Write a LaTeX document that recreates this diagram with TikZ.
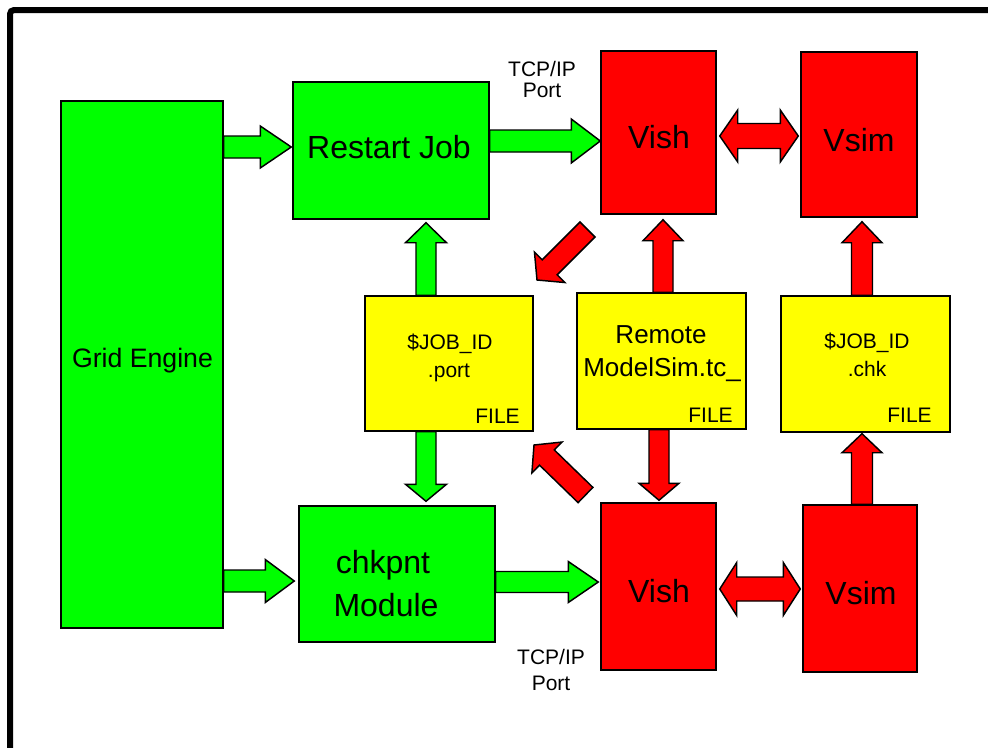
\documentclass[tikz,border=0pt]{standalone}
\usepackage{fontspec}
\setmainfont{Liberation Sans}
\usetikzlibrary{calc}
\definecolor{bgreen}{RGB}{0,255,0}
\definecolor{bred}{RGB}{255,0,0}
\definecolor{byellow}{RGB}{255,255,0}
\tikzset{
  box/.style={draw=black, line width=1.1pt, inner sep=0pt, rectangle},
  wh/.style 2 args={minimum width=#1*0.75pt, minimum height=#2*0.75pt},
  txt/.style={anchor=base, inner sep=0pt, text=black},
  arr/.style={draw=black, line width=1.1pt, line join=miter},
  sarrow/.style n args={3}{arr, to path={
    ($(\tikztostart)!#1*0.75pt!90:(\tikztotarget)$)
    -- ($(\tikztotarget)!#3*0.75pt!(\tikztostart)!#1*0.75pt!90:(\tikztotarget)$)
    -- ($(\tikztotarget)!#3*0.75pt!(\tikztostart)!#2*0.75pt!90:(\tikztotarget)$)
    -- (\tikztotarget)
    -- ($(\tikztotarget)!#3*0.75pt!(\tikztostart)!#2*0.75pt!-90:(\tikztotarget)$)
    -- ($(\tikztotarget)!#3*0.75pt!(\tikztostart)!#1*0.75pt!-90:(\tikztotarget)$)
    -- ($(\tikztostart)!#1*0.75pt!-90:(\tikztotarget)$)
    -- cycle}},
  darrow/.style n args={3}{arr, to path={
    (\tikztostart)
    -- ($(\tikztostart)!#3*0.75pt!(\tikztotarget)!#2*0.75pt!90:(\tikztotarget)$)
    -- ($(\tikztostart)!#3*0.75pt!(\tikztotarget)!#1*0.75pt!90:(\tikztotarget)$)
    -- ($(\tikztotarget)!#3*0.75pt!(\tikztostart)!#1*0.75pt!90:(\tikztotarget)$)
    -- ($(\tikztotarget)!#3*0.75pt!(\tikztostart)!#2*0.75pt!90:(\tikztotarget)$)
    -- (\tikztotarget)
    -- ($(\tikztotarget)!#3*0.75pt!(\tikztostart)!#2*0.75pt!-90:(\tikztotarget)$)
    -- ($(\tikztotarget)!#3*0.75pt!(\tikztostart)!#1*0.75pt!-90:(\tikztotarget)$)
    -- ($(\tikztostart)!#3*0.75pt!(\tikztotarget)!#1*0.75pt!-90:(\tikztotarget)$)
    -- ($(\tikztostart)!#3*0.75pt!(\tikztotarget)!#2*0.75pt!-90:(\tikztotarget)$)
    -- cycle}},
  big/.style={font=\fontsize{24}{28}\selectfont},
  mid/.style={font=\fontsize{20}{24}\selectfont},
  small/.style={font=\fontsize{15.75}{19}\selectfont},
}
\begin{document}
\begin{tikzpicture}[x=0.75pt, y=-0.75pt]
\useasboundingbox (0,0) rectangle (988,747);
\fill[white] (0,0) rectangle (988,747);
% frame
\draw[line width=4.5pt, rounded corners=3pt] (10,800) -- (10,10) -- (1050,10);

% boxes
\node[box, fill=bgreen, wh={162}{527}] (grid) at (142,364.5) {};
\node[box, fill=bgreen, wh={196}{137}] (restart) at (391,150.5) {};
\node[box, fill=bred, wh={115}{163}] (vish1) at (658.5,132.5) {};
\node[box, fill=bred, wh={116}{165}] (vsim1) at (859,134.5) {};
\node[box, fill=byellow, wh={168}{135}] (port) at (449,363.5) {};
\node[box, fill=byellow, wh={169}{136}] (remote) at (661.5,361) {};
\node[box, fill=byellow, wh={169}{136}] (chk) at (865.5,364) {};
\node[box, fill=bgreen, wh={196}{136}] (chkpnt) at (397,574) {};
\node[box, fill=bred, wh={115}{167}] (vish2) at (658.5,586.5) {};
\node[box, fill=bred, wh={114}{167}] (vsim2) at (860,588.5) {};

% texts
\node[txt, mid] (tgrid) at (142.5,367) {Grid Engine};
\node[txt, big] (trestart) at (389,158) {Restart Job};
\node[txt, big] (tvish1) at (659,148) {Vish};
\node[txt, big] (tvsim1) at (859,151) {Vsim};
\node[txt, big] (tvish2) at (659,602) {Vish};
\node[txt, big] (tvsim2) at (861,604) {Vsim};
\node[txt, big] (tchk1) at (383,573) {chkpnt};
\node[txt, big] (tchk2) at (386,616) {Module};
\node[txt, font=\fontsize{19.5}{24}\selectfont] (trem1) at (661,343) {Remote};
\node[txt, font=\fontsize{19.5}{24}\selectfont] (trem2) at (662,376) {ModelSim.tc\_};
\node[txt, small] (tport1) at (450,349) {\$JOB\_ID};
\node[txt, small] (tport2) at (449,377) {.port};
\node[txt, small] (tchk3) at (867,348) {\$JOB\_ID};
\node[txt, small] (tchk4) at (867,376) {.chk};
\node[txt, small, anchor=base east] (fport) at (520,423) {FILE};
\node[txt, small, anchor=base east] (frem) at (733,422) {FILE};
\node[txt, small, anchor=base east] (fchk) at (932,422) {FILE};
\node[txt, small] (tcp1) at (542,76) {TCP/IP};
\node[txt, small] (tcp2) at (542,97) {Port};
\node[txt, small] (tcp3) at (551,664) {TCP/IP};
\node[txt, small] (tcp4) at (551,690) {Port};

% connector end points
\coordinate (a1s) at (grid.east |- 0,147);
\coordinate (a1t) at ($(restart.west |- 0,147)+(-1,0)$);
\coordinate (a2s) at (restart.east |- 0,141);
\coordinate (a2t) at (vish1.west |- 0,141);
\coordinate (a3s) at ($(vish1.east |- 0,136)+(3,0)$);
\coordinate (a3t) at ($(vsim1.west |- 0,136)+(-2,0)$);
\coordinate (a4s) at (426,0 |- port.north);
\coordinate (a4t) at ($(426,0 |- restart.south)+(0,3)$);
\coordinate (a5s) at (426,0 |- port.south);
\coordinate (a5t) at ($(426,0 |- chkpnt.north)+(0,-4)$);
\coordinate (a6s) at (663,0 |- remote.north);
\coordinate (a6t) at ($(663,0 |- vish1.south)+(0,5)$);
\coordinate (a7s) at (659,0 |- remote.south);
\coordinate (a7t) at ($(659,0 |- vish2.north)+(0,-2)$);
\coordinate (a8s) at (587.5,229.5);
\coordinate (a8t) at (537,280);
\coordinate (a9s) at (585.5,495);
\coordinate (a9t) at (534,445);
\coordinate (a10s) at (862,0 |- chk.north);
\coordinate (a10t) at ($(862,0 |- vsim1.south)+(0,4)$);
\coordinate (a11s) at (862,0 |- vsim2.north);
\coordinate (a11t) at ($(862,0 |- chk.south)+(0,1)$);
\coordinate (a12s) at (grid.east |- 0,581);
\coordinate (a12t) at ($(chkpnt.west |- 0,581)+(-4,0)$);
\coordinate (a13s) at (chkpnt.east |- 0,582);
\coordinate (a13t) at ($(vish2.west |- 0,582)+(-2,0)$);
\coordinate (a14s) at ($(vish2.east |- 0,589)+(3,0)$);
\coordinate (a14t) at ($(vsim2.west |- 0,589)+(-2,0)$);

% block arrows
\draw[sarrow={11}{21}{31}, fill=bgreen] (a1s) to (a1t);
\draw[sarrow={11}{22}{29}, fill=bgreen] (a2s) to (a2t);
\draw[darrow={12.5}{26}{18}, fill=bred] (a3s) to (a3t);
\draw[sarrow={10}{20.5}{20}, fill=bgreen] (a4s) to (a4t);
\draw[sarrow={10}{20.5}{17}, fill=bgreen] (a5s) to (a5t);
\draw[sarrow={10}{20}{21}, fill=bred] (a6s) to (a6t);
\draw[sarrow={10}{20}{17}, fill=bred] (a7s) to (a7t);
\draw[sarrow={10.6}{21.6}{18}, fill=bred] (a8s) to (a8t);
\draw[sarrow={10.6}{21.6}{18}, fill=bred] (a9s) to (a9t);
\draw[sarrow={10.5}{20}{21}, fill=bred] (a10s) to (a10t);
\draw[sarrow={10.5}{20}{19}, fill=bred] (a11s) to (a11t);
\draw[sarrow={11}{21.5}{29}, fill=bgreen] (a12s) to (a12t);
\draw[sarrow={10.5}{20.5}{30}, fill=bgreen] (a13s) to (a13t);
\draw[darrow={12}{26.5}{17}, fill=bred] (a14s) to (a14t);
\end{tikzpicture}
\end{document}
